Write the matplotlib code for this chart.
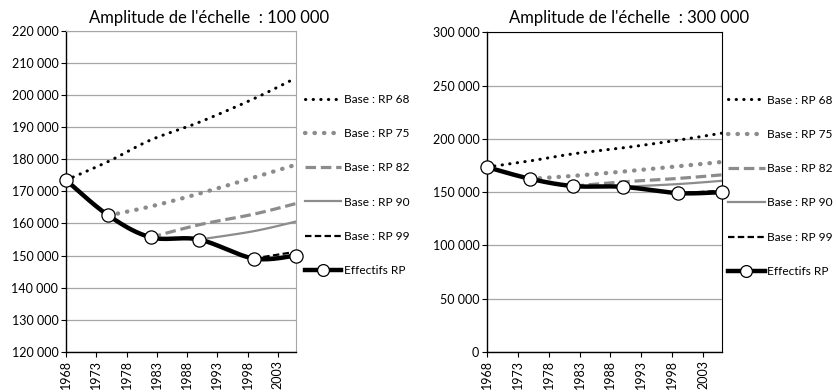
import numpy as np
import matplotlib
matplotlib.use('Agg')
import matplotlib.pyplot as plt

plt.rcParams['font.family'] = ['Lato', 'DejaVu Sans']

# census years and population counts (Effectifs RP)
years_rp = [1968, 1975, 1982, 1990, 1999, 2006]
effectifs = [173500, 162500, 155700, 155000, 149100, 150000]

# projections read at census years, each starting from its base census
years_68 = [1968, 1975, 1982, 1990, 1999, 2006]
base_68 = [173500, 179300, 186000, 191500, 198800, 205300]
years_75 = [1975, 1982, 1990, 1999, 2006]
base_75 = [162500, 165300, 169300, 174300, 178300]
years_82 = [1982, 1990, 1999, 2006]
base_82 = [155700, 159600, 162900, 166200]
years_90 = [1990, 1999, 2006]
base_90 = [155000, 157600, 160600]
years_99 = [1999, 2006]
base_99 = [149100, 151200]

tick_years = [1968, 1973, 1978, 1983, 1988, 1993, 1998, 2003]


def smooth(x, y, n=30):
    # Excel-like smoothed line (catmull-rom bezier)
    x = np.asarray(x, float)
    y = np.asarray(y, float)
    if len(x) < 3:
        return x, y
    px = np.concatenate([[x[0]], x, [x[-1]]])
    py = np.concatenate([[y[0]], y, [y[-1]]])
    xs, ys = [], []
    t = np.linspace(0, 1, n)
    for i in range(1, len(px) - 2):
        p0 = np.array([px[i], py[i]])
        p3 = np.array([px[i + 1], py[i + 1]])
        p1 = p0 + (np.array([px[i + 1], py[i + 1]]) - np.array([px[i - 1], py[i - 1]])) / 6.
        p2 = p3 - (np.array([px[i + 2], py[i + 2]]) - np.array([px[i], py[i]])) / 6.
        b = ((1 - t) ** 3)[:, None] * p0 + (3 * (1 - t) ** 2 * t)[:, None] * p1 \
            + (3 * (1 - t) * t ** 2)[:, None] * p2 + (t ** 3)[:, None] * p3
        xs.extend(b[:, 0])
        ys.extend(b[:, 1])
    return np.array(xs), np.array(ys)


def fmt(v, pos=None):
    return '{:,.0f}'.format(v).replace(',', ' ')


def panel(ax, ymin, ymax, step, grid_top, leg_x):
    grey = '#8c8c8c'
    ax.plot(*smooth(years_68, base_68), color='black', lw=2.2,
            linestyle=(0, (0.1, 2.4)), dash_capstyle='round', label='Base : RP 68')
    ax.plot(*smooth(years_75, base_75), color=grey, lw=3.1,
            linestyle=(0, (0.1, 2.1)), dash_capstyle='round', label='Base : RP 75')
    ax.plot(*smooth(years_82, base_82), color=grey, lw=2.3,
            linestyle=(0, (3.3, 1.5)), label='Base : RP 82')
    ax.plot(*smooth(years_90, base_90), color=grey, lw=1.6, label='Base : RP 90')
    ax.plot(*smooth(years_99, base_99), color='black', lw=1.6,
            linestyle=(0, (2.9, 1.5)), label='Base : RP 99')
    xs, ys = smooth(years_rp, effectifs)
    ax.plot(xs, ys, color='black', lw=3.2, zorder=4)
    ax.plot(years_rp, effectifs, linestyle='none', marker='o', ms=9.5,
            mfc='white', mec='black', mew=0.9, zorder=5, clip_on=False)
    ax.plot([], [], color='black', lw=3.2, marker='o', ms=8.5, mfc='white',
            mec='black', mew=0.9, label='Effectifs RP')

    ax.set_xlim(1968, 2006)
    ax.set_ylim(ymin, ymax)
    ax.set_yticks(np.arange(ymin, ymax + 1, step))
    ax.yaxis.set_major_formatter(matplotlib.ticker.FuncFormatter(fmt))
    ax.set_xticks(tick_years)
    ax.set_xticklabels([str(y) for y in tick_years], rotation=90)
    ax.grid(axis='y', color='#a6a6a6', lw=0.9)
    ax.set_axisbelow(True)
    ax.tick_params(axis='both', labelsize=9, length=3.5, width=0.8, pad=2, color='black')
    ax.spines['left'].set_color('black')
    ax.spines['bottom'].set_color('black')
    ax.spines['left'].set_linewidth(1.0)
    ax.spines['bottom'].set_linewidth(1.0)
    if grid_top:
        ax.spines['top'].set_color('#a6a6a6')
        ax.spines['right'].set_color('#a6a6a6')
    else:
        ax.spines['top'].set_color('black')
        ax.spines['right'].set_color('black')
        ax.spines['top'].set_linewidth(0.8)
        ax.spines['right'].set_linewidth(0.8)
    ax.legend(loc='center left', bbox_to_anchor=(leg_x, 0.52), frameon=False,
              fontsize=8.6, handlelength=3.05, handletextpad=0.2, labelspacing=1.95,
              borderaxespad=0)


fig = plt.figure(figsize=(8.36, 3.92), dpi=100)
ax1 = fig.add_axes([66 / 836., 1 - 352 / 392., 230 / 836., 321.3 / 392.])
ax2 = fig.add_axes([487 / 836., 1 - 352 / 392., 234.5 / 836., 319.7 / 392.])

panel(ax1, 120000, 220000, 10000, True, 1.017)
panel(ax2, 0, 300000, 50000, False, 1.008)

fig.text(209.5 / 836., 1 - 18 / 392., "Amplitude de l'\u00e9chelle  : 100 000",
         ha='center', va='center', fontsize=12)
fig.text(629.5 / 836., 1 - 18 / 392., "Amplitude de l'\u00e9chelle  : 300 000",
         ha='center', va='center', fontsize=12)

fig.savefig('out.png', dpi=100)
